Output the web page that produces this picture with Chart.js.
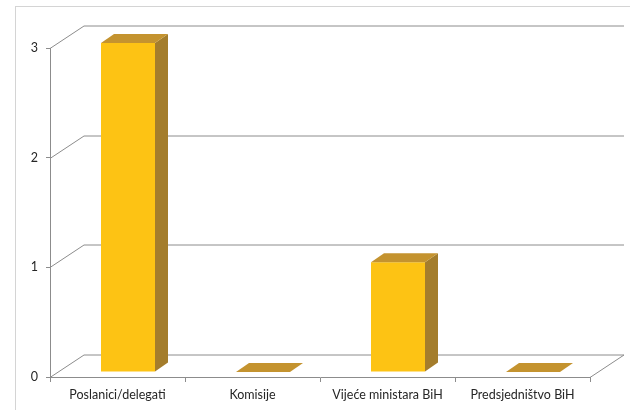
<!DOCTYPE html>
<html>
<head>
<meta charset="utf-8">
<script src="https://cdn.jsdelivr.net/npm/chart.js@4.4.1/dist/chart.umd.min.js"></script>
<style>
  body { margin: 0; background: #fff; }
  canvas { display: block; }
</style>
</head>
<body>
<canvas id="grafik" width="630" height="410"></canvas>
<script>
const kategorije = ["Poslanici/delegati", "Komisije", "Vijeće ministara BiH", "Predsjedništvo BiH"];
const vrijednosti = [3, 0, 1, 0];
const yOznake = [0, 1, 2, 3];

const bojaPrednja = "#FDC314";
const bojaBocna = "#A47D2C";
const bojaGornja = "#C4932F";
const bojaLinija = "#8C8C8C";

// dubina zida i stubova (3D izgled)
const zidDx = 34, zidDy = -22.5;
const stubDx = 13, stubDy = -9;
const pomakX = 10.5, pomakY = -5;

const grafik3D = {
    id: "grafik3D",
    beforeDraw(chart) {
        const ctx = chart.ctx;
        const x = chart.scales.x;
        const y = chart.scales.y;
        ctx.save();
        // okvir
        ctx.strokeStyle = "#D4D4D4";
        ctx.lineWidth = 1;
        ctx.strokeRect(15.5, 6.5, 640, 420);

        ctx.strokeStyle = bojaLinija;
        for (const v of yOznake) {
            const py = Math.round(y.getPixelForValue(v)) + 0.5;
            ctx.beginPath();
            ctx.moveTo(x.left, py);
            ctx.lineTo(x.left + zidDx, py + zidDy);
            ctx.lineTo(x.right + zidDx, py + zidDy);
            ctx.stroke();
        }
        const dno = Math.round(y.getPixelForValue(0)) + 0.5;
        ctx.beginPath();
        ctx.moveTo(x.right, dno);
        ctx.lineTo(x.right + zidDx, dno + zidDy);
        ctx.stroke();
        ctx.restore();
    },
    beforeDatasetsDraw(chart) {
        chart.ctx.save();
        chart.ctx.translate(pomakX, pomakY);
    },
    afterDatasetsDraw(chart) {
        const ctx = chart.ctx;
        const meta = chart.getDatasetMeta(0);
        meta.data.forEach((el) => {
            const { x, y, width, base } = el.getProps(["x", "y", "width", "base"], true);
            const l = x - width / 2;
            const r = x + width / 2;
            // bocna strana
            ctx.fillStyle = bojaBocna;
            ctx.beginPath();
            ctx.moveTo(r, y);
            ctx.lineTo(r + stubDx, y + stubDy);
            ctx.lineTo(r + stubDx, base + stubDy);
            ctx.lineTo(r, base);
            ctx.closePath();
            ctx.fill();
            // gornja strana
            ctx.fillStyle = bojaGornja;
            ctx.beginPath();
            ctx.moveTo(l, y);
            ctx.lineTo(l + stubDx, y + stubDy);
            ctx.lineTo(r + stubDx, y + stubDy);
            ctx.lineTo(r, y);
            ctx.closePath();
            ctx.fill();
        });
        ctx.restore();
    }
};

const myChart = new Chart(document.getElementById("grafik"), {
    type: "bar",
    data: {
        labels: kategorije,
        datasets: [{
            data: vrijednosti,
            backgroundColor: bojaPrednja,
            borderWidth: 0,
            barPercentage: 0.4,
            categoryPercentage: 1,
            clip: false
        }]
    },
    options: {
        responsive: false,
        animation: false,
        layout: { padding: { top: 48, right: 40, left: 0, bottom: 0 } },
        plugins: { legend: { display: false }, tooltip: { enabled: false } },
        scales: {
            x: {
                offset: true,
                grid: { offset: true, drawOnChartArea: false, tickLength: 5, color: bojaLinija },
                border: { color: bojaLinija },
                ticks: { color: "#262626", padding: 5, maxRotation: 0, font: { family: "Lato", size: 12.5 } },
                afterFit: (scale) => { scale.height = 33; }
            },
            y: {
                min: 0,
                max: 3,
                grid: { drawOnChartArea: false, tickLength: 4, color: bojaLinija },
                border: { color: bojaLinija },
                ticks: { stepSize: 1, color: "#262626", padding: 8, font: { family: "Lato", size: 12.5 } },
                afterFit: (scale) => { scale.width = 50; }
            }
        }
    },
    plugins: [grafik3D]
});
</script>
</body>
</html>
